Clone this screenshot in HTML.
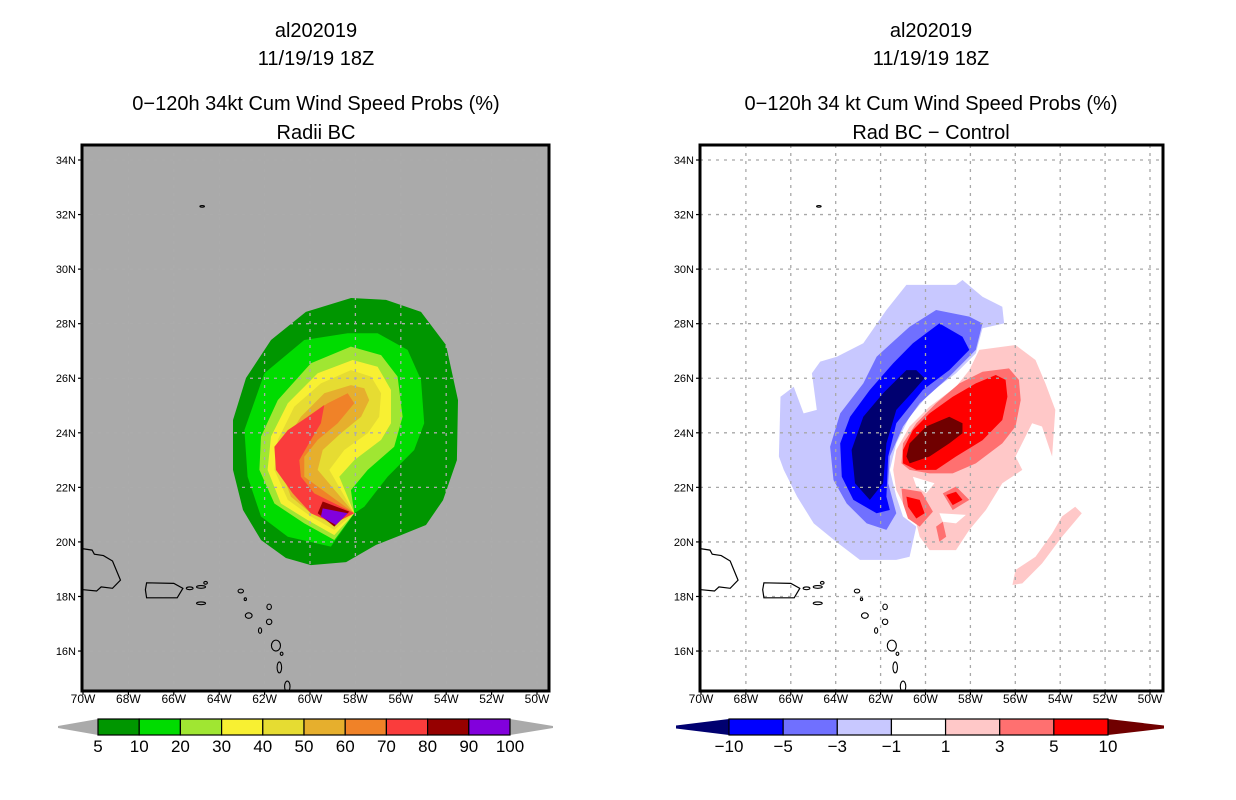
<!DOCTYPE html>
<html><head><meta charset="utf-8"><style>
body{margin:0;background:#fff}
svg{display:block}
text{font-family:"Liberation Sans",sans-serif;fill:#000}
</style></head><body>
<svg id="fig" width="1236" height="800" viewBox="0 0 1236 800" xmlns="http://www.w3.org/2000/svg">
<g font-size="20" text-anchor="middle">
<text x="316" y="37">al202019</text><text x="316" y="65">11/19/19 18Z</text>
<text x="316" y="110">0−120h 34kt Cum Wind Speed Probs (%)</text><text x="316" y="139">Radii BC</text></g>
<g font-size="20" text-anchor="middle">
<text x="931" y="37">al202019</text><text x="931" y="65">11/19/19 18Z</text>
<text x="931" y="110">0−120h 34 kt Cum Wind Speed Probs (%)</text><text x="931" y="139">Rad BC − Control</text></g>
<g id="left"></g>
<g id="right"></g>
<g id="cbars"></g>
</svg>
<script>
const lonTicks=[-70,-68,-66,-64,-62,-60,-58,-56,-54,-52,-50];
const latTicks=[16,18,20,22,24,26,28,30,32,34];
const leftLevels=[5,10,20,30,40,50,60,70,80,90];
const leftColors=["#009600","#00dc00","#a0e632","#f8f032","#e6dc32","#e6af2d","#f08228","#fa3c3c","#960000","#8200dc"];
const leftBarLabels=["5","10","20","30","40","50","60","70","80","90","100"];
const L5=[[-58.19,28.94],[-56.65,28.87],[-55.11,28.43],[-54.01,27.22],[-53.48,25.2],[-53.53,23.0],[-54.14,21.53],[-54.89,20.62],[-55.99,20.25],[-57.09,19.89],[-58.41,19.26],[-59.96,19.15],[-61.06,19.41],[-62.16,20.07],[-62.95,21.17],[-63.39,22.64],[-63.39,24.47],[-62.82,26.01],[-61.72,27.4],[-60.18,28.43]];
const L10=[[-58.34,27.65],[-57.02,27.65],[-55.7,27.04],[-55.11,25.94],[-54.97,24.35],[-55.41,23.37],[-56.58,22.39],[-57.61,21.29],[-58.05,21.05],[-59.08,19.83],[-60.98,20.19],[-62.16,20.93],[-62.75,22.39],[-62.89,24.1],[-62.01,26.18],[-60.25,27.4]];
const L20=[[-58.2,27.16],[-56.87,26.85],[-56.14,26.06],[-55.92,24.59],[-56.29,23.49],[-57.46,22.64],[-58.2,21.9],[-58.05,21.05],[-58.93,20.07],[-60.25,20.68],[-61.57,21.41],[-62.23,22.64],[-62.16,23.86],[-61.42,25.2],[-59.96,26.55]];
const L30=[[-58.12,26.67],[-57.02,26.42],[-56.43,25.57],[-56.43,24.35],[-56.87,23.74],[-58.05,23.0],[-58.71,22.39],[-58.05,21.05],[-58.93,20.25],[-60.1,20.8],[-61.28,21.41],[-61.87,22.64],[-61.72,23.86],[-60.98,25.08],[-59.66,26.18]];
const L40=[[-58.2,26.3],[-57.31,26.06],[-56.87,25.45],[-56.95,24.59],[-57.46,23.98],[-58.49,23.37],[-59.15,22.64],[-58.05,21.05],[-58.93,20.44],[-59.96,20.93],[-60.98,21.54],[-61.57,22.64],[-61.42,23.74],[-60.69,24.96],[-59.52,25.81]];
const L50=[[-58.2,25.75],[-57.61,25.63],[-57.39,25.2],[-57.75,24.59],[-58.64,23.98],[-59.44,23.37],[-59.66,22.64],[-58.05,21.05],[-59.08,20.68],[-59.96,21.05],[-60.84,21.66],[-61.28,22.64],[-61.13,23.61],[-60.4,24.59],[-59.37,25.45]];
const L60=[[-58.34,25.45],[-58.05,25.08],[-58.78,24.35],[-59.66,23.74],[-60.25,23.12],[-60.25,22.39],[-58.05,21.05],[-59.08,20.8],[-59.96,21.29],[-60.84,21.9],[-61.13,22.88],[-60.84,23.74],[-60.1,24.59],[-59.22,25.08]];
const L70=[[-59.37,25.02],[-59.52,24.35],[-59.96,23.74],[-60.47,23.0],[-60.4,22.39],[-59.81,21.78],[-58.05,21.05],[-58.93,20.68],[-59.96,21.05],[-60.76,21.78],[-61.5,22.64],[-61.57,23.49],[-60.98,24.1],[-60.1,24.59]];
const L80=[[-59.44,21.48],[-58.27,21.11],[-58.93,20.56],[-59.66,21.05]];
const L90=[[-59.44,21.23],[-58.34,21.05],[-58.86,20.62],[-59.52,20.93]];
const leftField=[L5,L10,L20,L30,L40,L50,L60,L70,L80,L90];

const rightLevels=[-10,-5,-3,-1,1,3,5,10];
const rightColors=["#000070","#0000ff","#7070ff","#c8c8ff","#ffffff","#ffc8c8","#ff7070","#ff0000","#700000"];
const rightBarLabels=["−10","−5","−3","−1","1","3","5","10"];
const Cm1=[[-60.85,29.42],[-58.64,29.42],[-58.35,29.6],[-57.46,28.99],[-56.58,28.62],[-56.5,28.01],[-57.46,27.83],[-57.76,26.91],[-58.64,26.18],[-59.82,25.45],[-60.71,24.59],[-61.3,23.61],[-61.59,22.64],[-61.3,21.66],[-61.0,20.93],[-60.41,20.56],[-60.71,19.46],[-61.3,19.34],[-62.92,19.34],[-63.95,19.99],[-64.98,20.68],[-65.72,21.66],[-66.31,22.64],[-66.53,23.13],[-66.46,25.32],[-65.87,25.69],[-65.43,24.71],[-64.84,24.84],[-64.98,25.69],[-65.06,26.18],[-64.69,26.61],[-63.95,26.79],[-62.77,27.28],[-61.74,28.5]];
const Cm3=[[-59.53,28.5],[-58.05,28.26],[-57.46,28.01],[-57.76,27.04],[-58.94,26.06],[-60.26,25.08],[-61.0,24.23],[-61.59,23.13],[-61.66,22.15],[-61.3,21.05],[-61.74,20.44],[-62.62,20.68],[-63.51,21.41],[-64.1,22.27],[-64.25,23.49],[-63.8,24.71],[-62.77,25.81],[-62.18,26.79],[-60.71,27.89]];
const Cm5=[[-59.38,28.01],[-58.35,27.52],[-58.05,27.04],[-58.94,26.3],[-60.12,25.57],[-61.3,24.35],[-61.66,23.13],[-61.74,21.66],[-61.59,21.17],[-62.18,21.05],[-63.21,21.54],[-63.73,22.39],[-63.8,23.61],[-63.36,24.59],[-62.48,25.57],[-61.44,26.55],[-60.56,27.28]];
const Cm10=[[-60.85,26.3],[-60.41,26.3],[-60.04,26.0],[-60.56,25.51],[-61.3,24.84],[-61.74,23.61],[-61.89,22.15],[-62.48,21.54],[-63.14,22.15],[-63.29,23.37],[-62.77,24.59],[-61.89,25.45]];
const Cp1=[[-57.61,27.04],[-55.99,27.22],[-55.1,26.67],[-54.66,25.81],[-54.22,24.84],[-54.36,23.13],[-54.81,24.23],[-55.25,24.35],[-55.99,23.13],[-55.69,22.64],[-56.58,22.15],[-57.31,21.17],[-58.05,20.44],[-58.64,19.7],[-59.82,19.7],[-60.26,20.19],[-60.41,20.68],[-60.85,21.17],[-61.3,21.9],[-61.44,22.64],[-61.3,23.37],[-60.71,24.23],[-59.82,24.96],[-58.64,25.69],[-58.05,26.3]];
const Cp1b=[[-53.33,21.29],[-53.04,21.05],[-53.92,20.19],[-54.81,19.21],[-55.69,18.48],[-56.13,18.42],[-55.99,18.97],[-55.1,19.46],[-54.36,20.31],[-53.92,20.93]];
const Cw1=[[-60.56,22.39],[-59.6,22.15],[-59.97,21.78],[-60.41,22.03]];
const Cw2=[[-59.38,21.05],[-58.2,20.99],[-58.64,20.68],[-59.23,20.74]];
const Cp3=[[-57.46,26.24],[-56.28,26.36],[-55.84,25.94],[-55.76,25.2],[-55.99,24.23],[-56.58,23.61],[-57.76,22.88],[-58.79,22.51],[-59.82,22.51],[-60.71,22.64],[-61.07,22.88],[-61.0,23.61],[-60.41,24.35],[-59.53,25.08],[-58.49,25.81]];
const Cp3a=[[-61.07,21.96],[-60.19,21.84],[-59.67,21.11],[-60.26,20.56],[-60.78,20.86],[-61.0,21.41]];
const Cp3b=[[-59.23,21.78],[-58.64,22.03],[-58.05,21.54],[-58.79,21.17]];
const Cp3c=[[-59.53,20.56],[-59.23,20.74],[-59.08,20.19],[-59.38,20.01]];
const Cp5=[[-56.87,26.12],[-56.43,25.94],[-56.35,25.32],[-56.58,24.47],[-57.46,23.73],[-58.64,23.13],[-59.53,22.64],[-60.41,22.64],[-61.0,22.88],[-61.0,23.37],[-60.56,24.1],[-59.82,24.71],[-58.79,25.32],[-57.76,25.81]];
const Cp5a=[[-60.85,21.66],[-60.26,21.54],[-60.04,21.05],[-60.41,20.86],[-60.78,21.29]];
const Cp5b=[[-59.08,21.72],[-58.64,21.84],[-58.35,21.54],[-58.79,21.35]];
const Cp10=[[-58.94,24.59],[-58.35,24.35],[-58.35,23.98],[-58.94,23.61],[-59.82,23.13],[-60.71,22.88],[-60.85,23.13],[-60.71,23.61],[-59.97,24.23]];
const rightField=[[Cm1,"#c8c8ff"],[Cm3,"#7070ff"],[Cm5,"#0000ff"],[Cm10,"#000070"],[Cp1,"#ffc8c8"],[Cp1b,"#ffc8c8"],[Cw1,"#ffffff"],[Cw2,"#ffffff"],[Cp3,"#ff7070"],[Cp3a,"#ff7070"],[Cp3b,"#ff7070"],[Cp3c,"#ff7070"],[Cp5,"#ff0000"],[Cp5a,"#ff0000"],[Cp5b,"#ff0000"],[Cp10,"#700000"]];

const hispaniola=[[-70,19.75],[-69.6,19.7],[-69.5,19.55],[-69.1,19.5],[-68.7,19.3],[-68.35,18.6],[-68.7,18.3],[-69.2,18.35],[-69.4,18.2],[-70,18.25]];
const puertoRico=[[-67.2,18.5],[-66.0,18.48],[-65.6,18.3],[-65.85,17.95],[-67.2,17.95],[-67.25,18.25]];
const islands=[[-65.3,18.3,0.15,0.05],[-64.8,18.35,0.2,0.05],[-64.6,18.5,0.08,0.05],[-64.8,17.75,0.2,0.05],[-63.05,18.2,0.12,0.07],[-62.85,17.9,0.05,0.05],[-62.7,17.3,0.15,0.1],[-62.2,16.75,0.07,0.1],[-61.8,17.62,0.1,0.1],[-61.8,17.07,0.12,0.1],[-61.5,16.2,0.2,0.2],[-61.25,15.9,0.06,0.06],[-61.35,15.4,0.1,0.2],[-61.0,14.7,0.12,0.2],[-64.75,32.3,0.1,0.03]];

const NS="http://www.w3.org/2000/svg";
function mk(tag,attrs,parent){const e=document.createElementNS(NS,tag);for(const k in attrs)e.setAttribute(k,attrs[k]);parent.appendChild(e);return e;}
const Y0=160,YS=27.28;
function makePanel(g,x0,xs,x1,bg){
  const X=lon=>x0+(lon+70)*xs, Y=lat=>Y0+(34-lat)*YS;
  const top=145,bot=691,left=x0-1;
  const cid="clip"+x0;
  const cp=mk("clipPath",{id:cid},g);mk("rect",{x:left,y:top,width:x1-left,height:bot-top},cp);
  const bgr=mk("rect",{x:left,y:top,width:x1-left,height:bot-top,fill:bg},g);
  
  
  const inner=mk("g",{"clip-path":"url(#"+cid+")"},g);
  return {X,Y,inner,top,bot,left,right:x1};
}
function poly(pts,P,fill,parent,name){
  const p=mk("polygon",{points:pts.map(q=>P.X(q[0]).toFixed(1)+","+P.Y(q[1]).toFixed(1)).join(" "),fill:fill},parent);
  
  
  return p;
}
function finishPanel(P,g,gridColor){
  lonTicks.forEach(l=>{if(l>-70){const ln=mk("line",{x1:P.X(l),x2:P.X(l),y1:P.top,y2:P.bot,stroke:gridColor,"stroke-width":1.3,"stroke-dasharray":"3,5"},P.inner);}});
  latTicks.forEach(l=>{const ln=mk("line",{x1:P.left,x2:P.right,y1:P.Y(l),y2:P.Y(l),stroke:gridColor,"stroke-width":1.3,"stroke-dasharray":"3,5"},P.inner);});
  const c1=mk("polyline",{points:hispaniola.map(q=>P.X(q[0])+","+P.Y(q[1])).join(" "),fill:"none",stroke:"#000","stroke-width":1.2},P.inner);
  
  const c2=poly(puertoRico,P,"none",P.inner,"coast-puerto-rico");c2.setAttribute("stroke","#000");c2.setAttribute("stroke-width","1.2");
  islands.forEach(i=>{const e=mk("ellipse",{cx:P.X(i[0]),cy:P.Y(i[1]),rx:i[2]*22.6,ry:i[3]*YS,fill:"none",stroke:"#000","stroke-width":1.1},P.inner);});
  const fr=mk("rect",{x:P.left,y:P.top,width:P.right-P.left,height:P.bot-P.top,fill:"none",stroke:"#000","stroke-width":3},g);
  
  lonTicks.forEach(l=>{mk("line",{x1:P.X(l),x2:P.X(l),y1:P.bot,y2:P.bot+4,stroke:"#000","stroke-width":1.2},g);
    const t=mk("text",{x:P.X(l),y:P.bot+12,"font-size":12,"text-anchor":"middle"},g);t.textContent=(-l)+"W";
    });
  latTicks.forEach(l=>{mk("line",{x1:P.left-4,x2:P.left,y1:P.Y(l),y2:P.Y(l),stroke:"#000","stroke-width":1.2},g);
    const t=mk("text",{x:P.left-6,y:P.Y(l)+4,"font-size":11,"text-anchor":"end"},g);t.textContent=l+"N";
    });
}
const LP=makePanel(document.getElementById("left"),83,22.7,549,"#aaaaaa");
leftField.forEach((pts,i)=>poly(pts,LP,leftColors[i],LP.inner,"contour-"+leftLevels[i]+"pct"));
finishPanel(LP,document.getElementById("left"),"#acacac");
const RP=makePanel(document.getElementById("right"),701,22.45,1163,"#ffffff");
rightField.forEach(f=>poly(f[0],RP,f[1],RP.inner,"diff-contour"));
finishPanel(RP,document.getElementById("right"),"#a8a8a8");
const cb=document.getElementById("cbars");
function bar(x0,x1,tipL,tipR,colors,labels,triL,triR,tipH,name){
  const n=colors.length-(triL?2:0), step=(x1-x0)/n, y0=719,y1=735,ym=727;
  const g=mk("g",{},cb);
  const tl=mk("polygon",{points:`${tipL},${ym-tipH} ${x0},${y0} ${x0},${y1} ${tipL},${ym+tipH}`,fill:triL},g);
  
  const tr=mk("polygon",{points:`${tipR},${ym-tipH} ${x1},${y0} ${x1},${y1} ${tipR},${ym+tipH}`,fill:triR},g);
  
  const cs=triL?colors.slice(1,-1):colors;
  cs.forEach((c,i)=>{const r=mk("rect",{x:x0+i*step,y:y0,width:step,height:y1-y0,fill:c,stroke:"#000","stroke-width":1.2},g);
    });
  labels.forEach((l,i)=>{const t=mk("text",{x:x0+i*step,y:752,"font-size":17,"text-anchor":"middle"},g);t.textContent=l;
    });
}
bar(98,510,58,553,leftColors,leftBarLabels,null,null,1,"left-colorbar");
cb.lastChild.querySelectorAll("polygon").forEach(p=>p.setAttribute("fill","#aaaaaa"));
bar(729,1108,676,1164,rightColors,rightBarLabels,"#000070","#700000",1.5,"right-colorbar");
</script>
</body></html>
